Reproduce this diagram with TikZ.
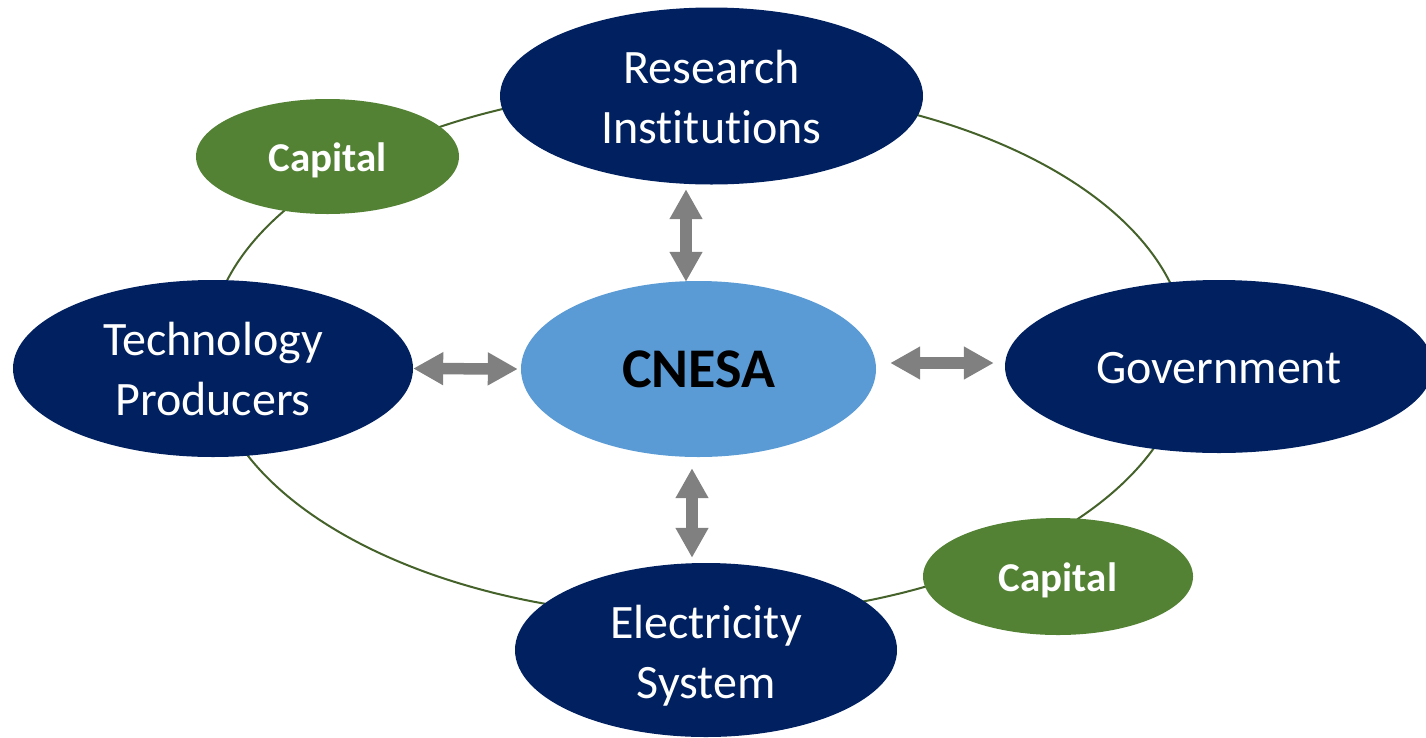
\documentclass[tikz,border=0pt]{standalone}
\usepackage{fontspec}
\setmainfont{Carlito}[Ligatures=NoCommon]
\usetikzlibrary{shapes.geometric,arrows.meta}
\definecolor{navy}{HTML}{002060}
\definecolor{skyblue}{HTML}{5B9BD5}
\definecolor{leaf}{HTML}{548235}
\definecolor{ringgreen}{HTML}{44622A}
\definecolor{arrowgray}{HTML}{808080}
% two centred lines; the first baseline sits #3 above the node centre
\newcommand{\pairlines}[3]{\raisebox{#3}[0pt][0pt]{\begin{tabular}[t]{@{}c@{}}#1\\#2\end{tabular}}}
\tikzset{
  actor/.style={ellipse, fill=navy, text=white, inner sep=0pt,
    font=\fontsize{48}{60}\selectfont},
  hub/.style={ellipse, fill=skyblue, text=black, inner sep=0pt,
    font=\fontsize{56}{66}\selectfont\bfseries, text height=36pt, text depth=0pt},
  money/.style={ellipse, fill=leaf, text=white, inner sep=0pt,
    font=\fontsize{41}{50}\selectfont\bfseries, text height=29pt, text depth=0pt},
  ring/.style={draw=ringgreen, line width=2pt},
  biarrow/.style={draw=arrowgray, line width=11.5pt,
    {Triangle[length=30pt,width=31pt]}-{Triangle[length=30pt,width=31pt]}}
}
\begin{document}
\begin{tikzpicture}[x=1pt,y=-1pt]
\useasboundingbox (0,0) rectangle (1426,737);
\clip (0,0) rectangle (1426,737);
% outer ring linking the partners
\draw[ring] (698,352) ellipse [x radius=489, y radius=265];
% partner ellipses
\node[actor, minimum width=423, minimum height=177] (ri) at (711.5,96) {\pairlines{Research}{Institutions}{13pt}};
\node[actor, minimum width=400, minimum height=177] (tp) at (213,368.5) {\pairlines{Technology}{Producers}{13.5pt}};
\node[actor, minimum width=428, minimum height=173, text height=33pt, text depth=0pt] (gov) at (1219,366.5) {Government};
\node[actor, minimum width=382, minimum height=174] (es) at (706,650) {\pairlines{Electricity}{System}{12pt}};
% capital flows
\node[money, minimum width=263, minimum height=115] (cap1) at (327.5,156.5) {Capital};
\node[money, minimum width=270, minimum height=117] (cap2) at (1058,576.5) {Capital};
% central hub
\node[hub, minimum width=355, minimum height=176] (cn) at (698.5,369) {CNESA};
% two-way links to the hub
\draw[biarrow] ([xshift=-25.5pt,yshift=-4.5pt]ri.south) -- ([xshift=-12.5pt,yshift=-1pt]cn.north);
\draw[biarrow] (tp.east) -- ([xshift=-3pt]cn.west);
\draw[biarrow] ([xshift=-6.5pt,yshift=-11pt]cn.south) -- ([xshift=-14pt,yshift=5pt]es.north);
\draw[biarrow] ([xshift=14pt,yshift=6pt]cn.east) -- ([xshift=-11pt,yshift=3.5pt]gov.west);
\end{tikzpicture}
\end{document}
